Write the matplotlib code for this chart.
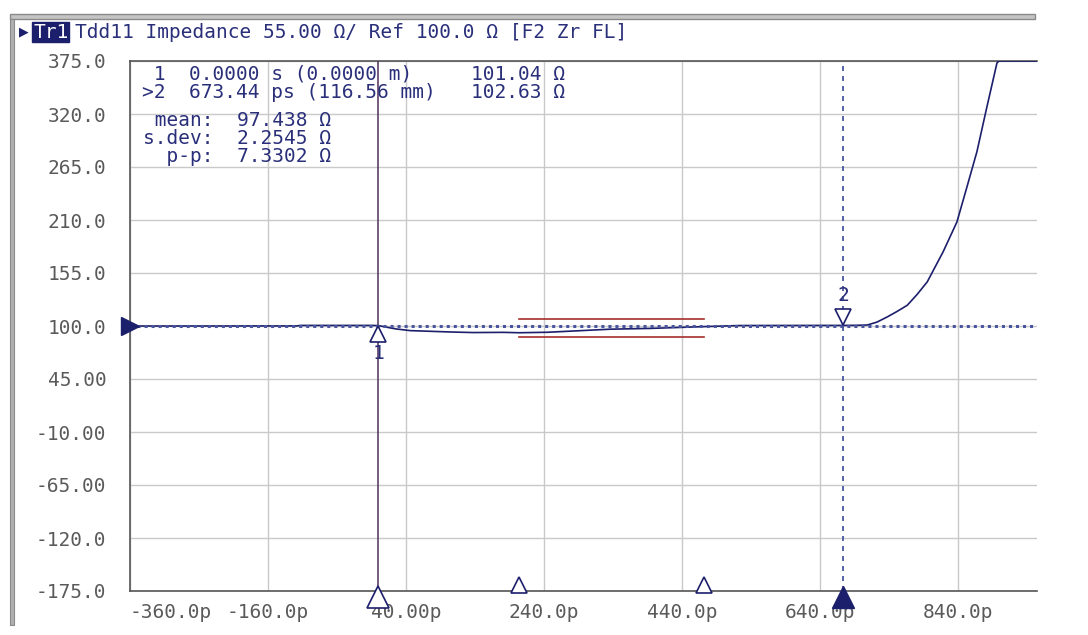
"""TDR impedance trace (Tdd11) recreated from an analyzer screenshot."""

import matplotlib
matplotlib.use("Agg")
import matplotlib.pyplot as plt
from matplotlib.patches import Rectangle

# trace data (time in ps, impedance in ohm)
time_ps = [-360, -258, -118, -113, -26, -9, 0, 10, 25, 46, 104, 137, 181, 204,
           245, 288, 336, 394, 473, 524, 640, 673, 690, 708, 722, 737, 751, 766,
           780, 795, 818, 838, 852, 867, 881, 896, 899, 954]
impedance = [100.0, 100.0, 100.1, 100.6, 100.6, 100.6, 100.4, 99.0, 97.0, 95.2,
             93.8, 93.2, 93.4, 93.0, 93.5, 95.0, 96.7, 97.5, 99.4, 100.5, 100.6,
             100.6, 100.7, 101.0, 104.0, 109.4, 115.0, 121.5, 132.5, 145.8, 177,
             208, 243, 281, 326, 373, 375, 375]

y_ticks = [375, 320, 265, 210, 155, 100, 45, -10, -65, -120, -175]
y_labels = ["375.0", "320.0", "265.0", "210.0", "155.0", "100.0", "45.00",
            "-10.00", "-65.00", "-120.0", "-175.0"]
x_ticks = [-360, -160, 40, 240, 440, 640, 840]
x_labels = ["-360.0p", "-160.0p", "40.00p", "240.0p", "440.0p", "640.0p", "840.0p"]

ref_value = 100.0
marker_times = [0.0, 673.44]
stats_range = [203, 472]
stats_band = [107.6, 88.9]

marker_lines = [" 1  0.0000 s (0.0000 m)     101.04 \u03a9",
                ">2  673.44 ps (116.56 mm)   102.63 \u03a9"]
stats_lines = [" mean:  97.438 \u03a9",
               "s.dev:  2.2545 \u03a9",
               "  p-p:  7.3302 \u03a9"]

NAVY = "#1c1f6b"
TEXT = "#2a2f7a"
GRAY = "#5a5a5a"
MONO = "DejaVu Sans Mono"
FS = 14
W, H = 1088, 635


def fx(px):
    return px / W


def fy(py):
    return 1 - py / H


fig = plt.figure(figsize=(10.88, 6.35), dpi=100)
ax = fig.add_axes([fx(130), fy(591), fx(1037) - fx(130), fy(61) - fy(591)])

ax.set_xlim(-360, 954)
ax.set_ylim(-175, 375)
ax.set_yticks(y_ticks)
ax.set_yticklabels(y_labels)
ax.set_xticks(x_ticks)
ax.set_xticklabels(x_labels)
ax.tick_params(length=0, labelsize=FS, labelcolor=GRAY, pad=17)
ax.tick_params(axis="x", pad=9)
for lbl in ax.get_xticklabels() + ax.get_yticklabels():
    lbl.set_family(MONO)
ax.get_xticklabels()[0].set_ha("left")
ax.grid(True, color="#c9c9c9", lw=1)
for side in ["left", "top", "bottom"]:
    ax.spines[side].set_color("#555555")
    ax.spines[side].set_linewidth(1.2)
ax.spines["right"].set_visible(False)

# trace
ax.plot(time_ps, impedance, color=NAVY, lw=1.2, zorder=4)

# reference line
ax.axhline(ref_value, color="#4a55a0", lw=2.2, ls=(0, (1, 1.3)), zorder=5)
ax.plot(-360, ref_value, marker=">", ms=13, color=NAVY, clip_on=False, zorder=6)

# statistics band (red lines)
for v in stats_band:
    ax.plot(stats_range, [v, v], color="#a3322a", lw=1.2, zorder=3)

# marker lines
ax.axvline(marker_times[0], color="#5d3f66", lw=1.2, zorder=3)
ax.axvline(marker_times[1], color="#3a4a9a", lw=1.2, ls=(0, (3, 3)), zorder=3)

# on-trace markers
ax.plot(marker_times[0], 92, marker="^", ms=12, mfc="white", mec=NAVY, mew=1.2, zorder=7)
ax.text(marker_times[0], 71, "1", ha="center", va="center", fontsize=FS,
        family=MONO, color=TEXT, zorder=7)
ax.plot(marker_times[1], 109, marker="v", ms=12, mfc="white", mec=NAVY, mew=1.2, zorder=7)
ax.text(marker_times[1], 132, "2", ha="center", va="center", fontsize=FS,
        family=MONO, color=TEXT, zorder=7)

# bottom markers
xt = ax.get_xaxis_transform()
ax.plot(marker_times[0], -0.012, marker="^", ms=16, mfc="white", mec=NAVY,
        mew=1.2, transform=xt, clip_on=False, zorder=7)
ax.plot(marker_times[1], -0.012, marker="^", ms=16, color=NAVY,
        transform=xt, clip_on=False, zorder=7)
for t in stats_range:
    ax.plot(t, 0.012, marker="^", ms=12, mfc="white", mec=NAVY, mew=1.2,
            transform=xt, clip_on=False, zorder=7)

# marker readout and statistics
for i, line in enumerate(marker_lines):
    fig.text(fx(142), fy(74 + 19 * i), line, family=MONO, fontsize=FS,
             color=TEXT, va="center", ha="left")
for i, line in enumerate(stats_lines):
    fig.text(fx(143), fy(121 + 18 * i), line, family=MONO, fontsize=FS,
             color=TEXT, va="center", ha="left")

# title bar
fig.text(fx(19), fy(32), "\u25b6", fontsize=9, color=NAVY, va="center", ha="left")
fig.text(fx(33), fy(32), "Tr1", family=MONO, fontsize=FS, color="white",
         va="center", ha="left",
         bbox=dict(boxstyle="square,pad=0.03", fc=NAVY, ec=NAVY))
fig.text(fx(75), fy(32), "Tdd11 Impedance 55.00 \u03a9/ Ref 100.0 \u03a9 [F2 Zr FL]",
         family=MONO, fontsize=FS, color=TEXT, va="center", ha="left")

# window frame
fig.add_artist(Rectangle((fx(10), fy(19)), fx(1035) - fx(10), fy(14) - fy(19),
                         transform=fig.transFigure, fc="#c4c4c4", ec="#8a8a8a", lw=1))
fig.add_artist(Rectangle((fx(10), fy(625)), fx(14) - fx(10), fy(19) - fy(625),
                         transform=fig.transFigure, fc="#b0b0b0", ec="#8a8a8a", lw=0.8))

fig.savefig("out.png", dpi=100)
